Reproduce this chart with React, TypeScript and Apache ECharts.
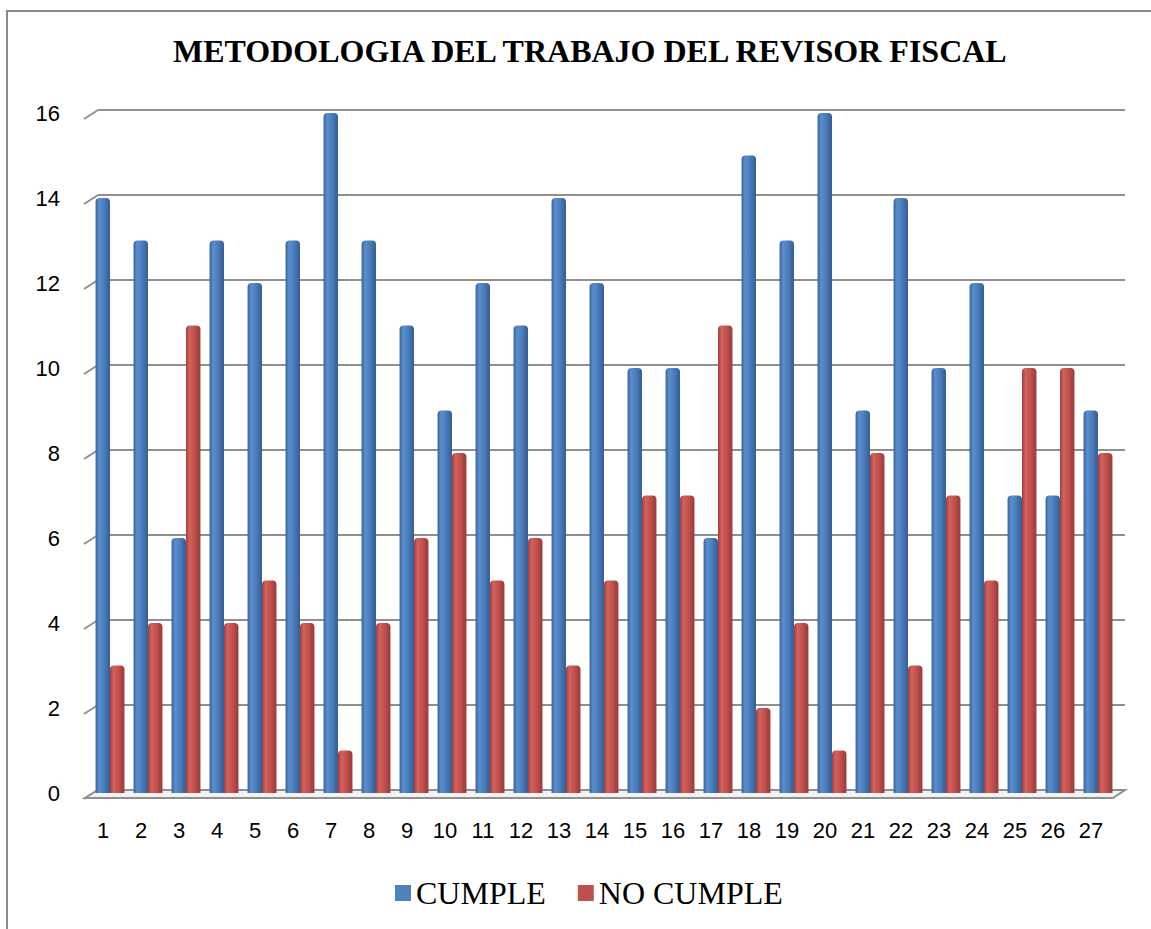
import React, { useEffect, useRef } from "react";
import * as echarts from "echarts";

const categories = ["1","2","3","4","5","6","7","8","9","10","11","12","13","14","15","16","17","18","19","20","21","22","23","24","25","26","27"];
const cumple = [14,13,6,13,12,13,16,13,11,9,12,11,14,12,10,10,6,15,13,16,9,14,10,12,7,7,9];
const noCumple = [3,4,11,4,5,4,1,4,6,8,5,6,3,5,7,7,11,2,4,1,8,3,7,5,10,10,8];
const yTicks = [0,2,4,6,8,10,12,14,16];
const titleText = "METODOLOGIA DEL TRABAJO DEL REVISOR FISCAL";

const blueGrad = new echarts.graphic.LinearGradient(0, 0, 1, 0, [
  { offset: 0, color: "#37629a" },
  { offset: 0.25, color: "#5b8ecf" },
  { offset: 0.6, color: "#4b7cba" },
  { offset: 1, color: "#345d93" },
]);
const redGrad = new echarts.graphic.LinearGradient(0, 0, 1, 0, [
  { offset: 0, color: "#a33e3b" },
  { offset: 0.25, color: "#d2625e" },
  { offset: 0.6, color: "#c0504d" },
  { offset: 1, color: "#983a37" },
]);

const squareIcon = "path://M0,0L16,0L16,16L0,16Z";

export default function App() {
  const ref = useRef<HTMLDivElement>(null);
  useEffect(() => {
    if (!ref.current) return;
    const chart = echarts.init(ref.current, null, { renderer: "svg" });
    const axisFont = { fontFamily: "Liberation Sans", fontSize: 22, color: "#000" };
    chart.setOption({
      animation: false,
      backgroundColor: "#fff",
      title: {
        text: titleText,
        left: 168,
        top: 30,
        textStyle: { fontFamily: "Liberation Serif", fontWeight: "bold", fontSize: 32, color: "#000" },
      },
      legend: {
        left: 390,
        top: 872,
        itemWidth: 16,
        itemHeight: 16,
        itemGap: 32,
        textStyle: { fontFamily: "Liberation Serif", fontSize: 32, color: "#000" },
        data: [
          { name: "CUMPLE", icon: squareIcon, itemStyle: { color: "#4f81bd", borderWidth: 0 } },
          { name: "NO CUMPLE", icon: squareIcon, itemStyle: { color: "#c0504d", borderWidth: 0 } },
        ],
      },
      grid: [
        { left: 91, right: 34, top: 113, bottom: 136 },
        { left: 98, right: 26, top: 110, bottom: 139 },
      ],
      xAxis: [
        {
          type: "category",
          gridIndex: 0,
          data: categories,
          axisLine: { show: false },
          axisTick: { show: false },
          axisLabel: { ...axisFont, margin: 26, padding: [0, 14, 0, 0] },
        },
        { type: "value", gridIndex: 1, min: 0, max: 1, show: false },
      ],
      yAxis: [
        {
          type: "value",
          gridIndex: 0,
          min: 0,
          max: 16,
          interval: 2,
          axisLine: { show: false },
          axisTick: { show: false },
          splitLine: { show: false },
          axisLabel: { ...axisFont, margin: 31, padding: [12, 0, 0, 0] },
        },
        {
          type: "value",
          gridIndex: 1,
          min: 0,
          max: 16,
          interval: 2,
          axisLine: { show: false },
          axisTick: { show: false },
          axisLabel: { show: false },
          splitLine: { show: true, lineStyle: { color: "#8f8f8f", width: 2 } },
        },
      ],
      series: [
        {
          name: "CUMPLE",
          type: "bar",
          xAxisIndex: 0,
          yAxisIndex: 0,
          data: cumple,
          barGap: "0%",
          barCategoryGap: "24%",
          z: 3,
          itemStyle: { color: blueGrad, borderRadius: [4, 4, 0, 0] },
        },
        {
          name: "NO CUMPLE",
          type: "bar",
          xAxisIndex: 0,
          yAxisIndex: 0,
          data: noCumple,
          barGap: "0%",
          barCategoryGap: "24%",
          z: 3,
          itemStyle: { color: redGrad, borderRadius: [4, 4, 0, 0] },
        },
      ],
    });

    const graphics: any[] = [
      {
        type: "rect",
        shape: { x: 7, y: 11, width: 1200, height: 1000 },
        style: { fill: "none", stroke: "#898989", lineWidth: 2 },
        z: 0,
        silent: true,
      },
    ];
    yTicks.forEach((v) => {
      const p = chart.convertToPixel({ xAxisIndex: 1, yAxisIndex: 1 }, [0, v]) as number[];
      graphics.push({
        type: "line",
        shape: { x1: p[0] - 14, y1: p[1] + 9, x2: p[0], y2: p[1] },
        style: { stroke: "#8f8f8f", lineWidth: 2 },
        z: 1,
        silent: true,
      });
    });
    const b0 = chart.convertToPixel({ xAxisIndex: 1, yAxisIndex: 1 }, [0, 0]) as number[];
    const b1 = chart.convertToPixel({ xAxisIndex: 1, yAxisIndex: 1 }, [1, 0]) as number[];
    graphics.push({
      type: "polygon",
      shape: {
        points: [
          [b0[0], b0[1]],
          [b1[0], b1[1]],
          [b1[0] - 12, b1[1] + 8],
          [b0[0] - 13, b0[1] + 8],
        ],
      },
      style: { fill: "#f2f2f2", stroke: "#8f8f8f", lineWidth: 2 },
      z: 1,
      silent: true,
    });
    chart.setOption({ graphic: graphics });
    return () => chart.dispose();
  }, []);
  return (
    <div
      ref={ref}
      style={{ position: "fixed", left: 0, top: 0, width: 1151, height: 929 }}
    />
  );
}
